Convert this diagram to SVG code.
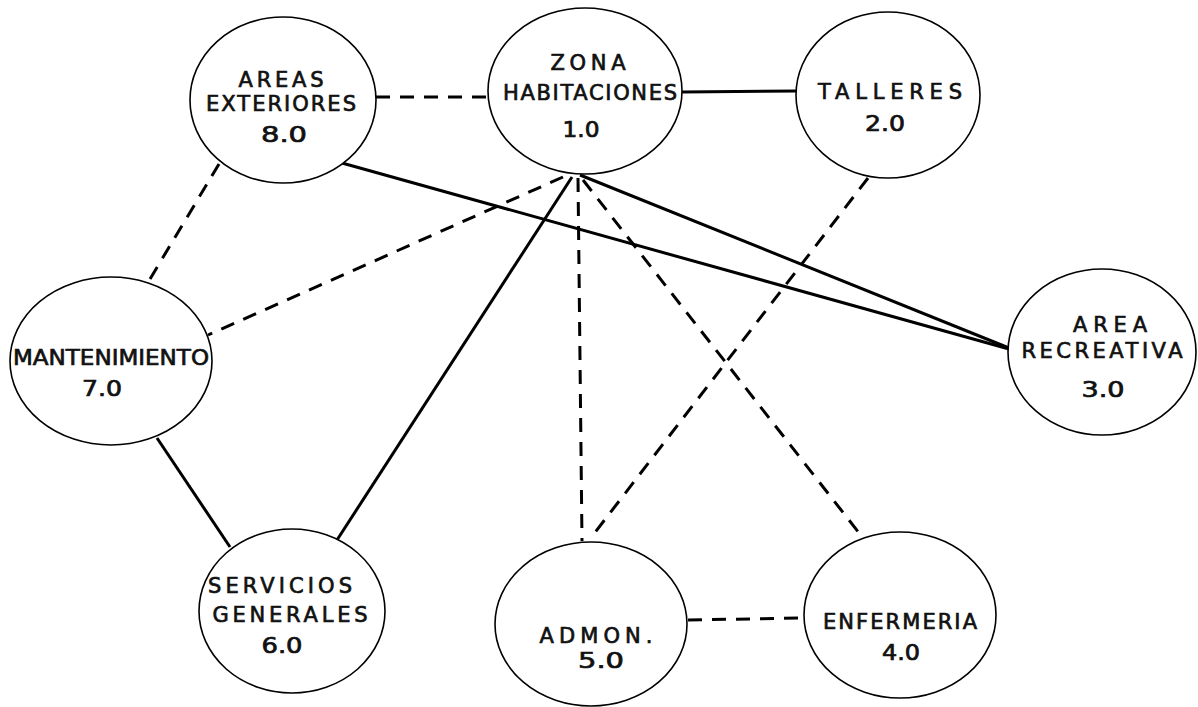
<svg xmlns="http://www.w3.org/2000/svg" width="1198" height="707" viewBox="0 0 1198 707">
<style>
.n{fill:#fff;stroke:#000;stroke-width:1.6}
.t{font-family:"DejaVu Sans","Liberation Sans",Arial,sans-serif;font-size:21px;fill:#111;stroke:#111;stroke-width:0.7;text-anchor:middle}
.s{fill:none;stroke:#000;stroke-width:3}
.d{fill:none;stroke:#000;stroke-width:3;stroke-dasharray:14 10}
</style>
<rect width="1198" height="707" fill="#fff"/>
<g id="connectors">
<line class="d" x1="376" y1="97" x2="488" y2="97"/>
<line class="s" x1="682" y1="92" x2="797" y2="91"/>
<line class="s" x1="342" y1="163" x2="1009" y2="349"/>
<line class="s" x1="580" y1="175" x2="1009" y2="348"/>
<line class="d" x1="563" y1="177" x2="208" y2="335"/>
<line class="s" x1="572" y1="177" x2="337" y2="540"/>
<line class="d" x1="578" y1="178" x2="582" y2="541"/>
<line class="d" x1="583" y1="180" x2="863" y2="538"/>
<line class="d" x1="868" y1="178" x2="593" y2="535"/>
<line class="d" x1="219" y1="164" x2="150" y2="279"/>
<line class="s" x1="157" y1="438" x2="230" y2="547"/>
<line class="d" x1="688" y1="620" x2="804" y2="618"/>
</g>
<g id="n8">
<ellipse class="n" cx="283" cy="100" rx="93" ry="83"/>
<text class="t" x="281" y="87" textLength="85" lengthAdjust="spacing">AREAS</text>
<text class="t" x="281" y="111" textLength="150" lengthAdjust="spacing">EXTERIORES</text>
<text class="t" x="284" y="142" textLength="46" lengthAdjust="spacingAndGlyphs">8.0</text>
</g>
<g id="n1">
<ellipse class="n" cx="585" cy="91" rx="97" ry="83"/>
<text class="t" x="588" y="70" textLength="75" lengthAdjust="spacing">ZONA</text>
<text class="t" x="590" y="100" textLength="174" lengthAdjust="spacing">HABITACIONES</text>
<text class="t" x="581" y="137" textLength="37" lengthAdjust="spacingAndGlyphs">1.0</text>
</g>
<g id="n2">
<ellipse class="n" cx="888" cy="95" rx="92" ry="83"/>
<text class="t" x="890" y="99" textLength="144" lengthAdjust="spacing">TALLERES</text>
<text class="t" x="885" y="131" textLength="40" lengthAdjust="spacingAndGlyphs">2.0</text>
</g>
<g id="n3">
<ellipse class="n" cx="1102" cy="352" rx="94" ry="83"/>
<text class="t" x="1110" y="332" textLength="74" lengthAdjust="spacing">AREA</text>
<text class="t" x="1102" y="358" textLength="161" lengthAdjust="spacing">RECREATIVA</text>
<text class="t" x="1103" y="397" textLength="43" lengthAdjust="spacingAndGlyphs">3.0</text>
</g>
<g id="n7">
<ellipse class="n" cx="111" cy="361" rx="101" ry="84"/>
<text class="t" x="111" y="365" textLength="196" lengthAdjust="spacingAndGlyphs">MANTENIMIENTO</text>
<text class="t" x="102" y="396" textLength="40" lengthAdjust="spacingAndGlyphs">7.0</text>
</g>
<g id="n6">
<ellipse class="n" cx="292" cy="611" rx="93" ry="82"/>
<text class="t" x="280" y="593" textLength="144" lengthAdjust="spacing">SERVICIOS</text>
<text class="t" x="290" y="622" textLength="155" lengthAdjust="spacing">GENERALES</text>
<text class="t" x="282" y="653" textLength="41" lengthAdjust="spacingAndGlyphs">6.0</text>
</g>
<g id="n5">
<ellipse class="n" cx="591" cy="624" rx="96" ry="82"/>
<text class="t" x="596" y="643" textLength="113" lengthAdjust="spacing">ADMON.</text>
<text class="t" x="601" y="668" textLength="46" lengthAdjust="spacingAndGlyphs">5.0</text>
</g>
<g id="n4">
<ellipse class="n" cx="900" cy="615" rx="96" ry="83"/>
<text class="t" x="900" y="629" textLength="154" lengthAdjust="spacing">ENFERMERIA</text>
<text class="t" x="901" y="660" textLength="38" lengthAdjust="spacingAndGlyphs">4.0</text>
</g>
</svg>
